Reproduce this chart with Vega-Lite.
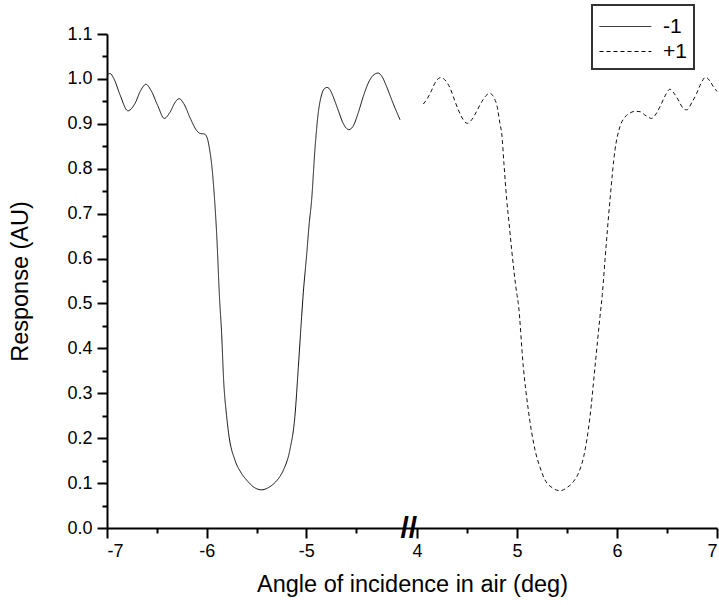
{
  "$schema": "https://vega.github.io/schema/vega-lite/v6.json",
  "width": 610,
  "height": 494,
  "autosize": "none",
  "padding": {"left": 107, "top": 34, "right": 2, "bottom": 77},
  "background": "white",
  "config": {
    "view": {"stroke": null},
    "font": "Liberation Sans",
    "legend": {"strokeWidth": 2},
    "axis": {
      "grid": false,
      "domainColor": "black",
      "tickColor": "black",
      "labelColor": "black",
      "titleColor": "black",
      "domainWidth": 2,
      "tickWidth": 2,
      "labelFont": "Liberation Sans",
      "titleFont": "Liberation Sans",
      "labelFontSize": 18,
      "titleFontSize": 23.5,
      "titleFontWeight": "normal"
    }
  },
  "datasets": {
    "curves": [
      {"order": "-1", "angle": -7.0, "response": 1.008},
      {"order": "-1", "angle": -6.97, "response": 1.012},
      {"order": "-1", "angle": -6.93, "response": 1.0},
      {"order": "-1", "angle": -6.87, "response": 0.965},
      {"order": "-1", "angle": -6.79, "response": 0.929},
      {"order": "-1", "angle": -6.72, "response": 0.945},
      {"order": "-1", "angle": -6.66, "response": 0.975},
      {"order": "-1", "angle": -6.61, "response": 0.988},
      {"order": "-1", "angle": -6.56, "response": 0.975},
      {"order": "-1", "angle": -6.49, "response": 0.94},
      {"order": "-1", "angle": -6.425, "response": 0.912},
      {"order": "-1", "angle": -6.37, "response": 0.925},
      {"order": "-1", "angle": -6.31, "response": 0.95},
      {"order": "-1", "angle": -6.275, "response": 0.956},
      {"order": "-1", "angle": -6.23, "response": 0.945},
      {"order": "-1", "angle": -6.16, "response": 0.91},
      {"order": "-1", "angle": -6.1, "response": 0.885},
      {"order": "-1", "angle": -6.07, "response": 0.879},
      {"order": "-1", "angle": -6.02, "response": 0.877},
      {"order": "-1", "angle": -5.99, "response": 0.865},
      {"order": "-1", "angle": -5.97, "response": 0.842},
      {"order": "-1", "angle": -5.95, "response": 0.81},
      {"order": "-1", "angle": -5.93, "response": 0.76},
      {"order": "-1", "angle": -5.9, "response": 0.656},
      {"order": "-1", "angle": -5.87, "response": 0.508},
      {"order": "-1", "angle": -5.85, "response": 0.434},
      {"order": "-1", "angle": -5.83, "response": 0.33},
      {"order": "-1", "angle": -5.8, "response": 0.25},
      {"order": "-1", "angle": -5.78, "response": 0.211},
      {"order": "-1", "angle": -5.716, "response": 0.151},
      {"order": "-1", "angle": -5.66, "response": 0.125},
      {"order": "-1", "angle": -5.6, "response": 0.107},
      {"order": "-1", "angle": -5.52, "response": 0.09},
      {"order": "-1", "angle": -5.45, "response": 0.085},
      {"order": "-1", "angle": -5.38, "response": 0.09},
      {"order": "-1", "angle": -5.33, "response": 0.098},
      {"order": "-1", "angle": -5.28, "response": 0.11},
      {"order": "-1", "angle": -5.23, "response": 0.129},
      {"order": "-1", "angle": -5.165, "response": 0.174},
      {"order": "-1", "angle": -5.115, "response": 0.248},
      {"order": "-1", "angle": -5.08, "response": 0.359},
      {"order": "-1", "angle": -5.047, "response": 0.471},
      {"order": "-1", "angle": -5.03, "response": 0.525},
      {"order": "-1", "angle": -5.0, "response": 0.6},
      {"order": "-1", "angle": -4.97, "response": 0.68},
      {"order": "-1", "angle": -4.947, "response": 0.73},
      {"order": "-1", "angle": -4.914, "response": 0.842},
      {"order": "-1", "angle": -4.88, "response": 0.925},
      {"order": "-1", "angle": -4.85, "response": 0.962},
      {"order": "-1", "angle": -4.82, "response": 0.978},
      {"order": "-1", "angle": -4.79, "response": 0.981},
      {"order": "-1", "angle": -4.76, "response": 0.975},
      {"order": "-1", "angle": -4.73, "response": 0.96},
      {"order": "-1", "angle": -4.68, "response": 0.93},
      {"order": "-1", "angle": -4.63, "response": 0.901},
      {"order": "-1", "angle": -4.573, "response": 0.887},
      {"order": "-1", "angle": -4.53, "response": 0.895},
      {"order": "-1", "angle": -4.48, "response": 0.924},
      {"order": "-1", "angle": -4.43, "response": 0.96},
      {"order": "-1", "angle": -4.38, "response": 0.99},
      {"order": "-1", "angle": -4.33, "response": 1.008},
      {"order": "-1", "angle": -4.28, "response": 1.013},
      {"order": "-1", "angle": -4.24, "response": 1.005},
      {"order": "-1", "angle": -4.195, "response": 0.983},
      {"order": "-1", "angle": -4.13, "response": 0.946},
      {"order": "-1", "angle": -4.06, "response": 0.909},
      {"order": "+1", "angle": 4.063, "response": 0.944},
      {"order": "+1", "angle": 4.1, "response": 0.955},
      {"order": "+1", "angle": 4.147, "response": 0.975},
      {"order": "+1", "angle": 4.19, "response": 0.995},
      {"order": "+1", "angle": 4.24, "response": 1.003},
      {"order": "+1", "angle": 4.29, "response": 0.995},
      {"order": "+1", "angle": 4.33, "response": 0.98},
      {"order": "+1", "angle": 4.38, "response": 0.95},
      {"order": "+1", "angle": 4.413, "response": 0.931},
      {"order": "+1", "angle": 4.46, "response": 0.91},
      {"order": "+1", "angle": 4.503, "response": 0.901},
      {"order": "+1", "angle": 4.55, "response": 0.91},
      {"order": "+1", "angle": 4.597, "response": 0.928},
      {"order": "+1", "angle": 4.65, "response": 0.95},
      {"order": "+1", "angle": 4.7, "response": 0.965},
      {"order": "+1", "angle": 4.73, "response": 0.968},
      {"order": "+1", "angle": 4.77, "response": 0.958},
      {"order": "+1", "angle": 4.8, "response": 0.94},
      {"order": "+1", "angle": 4.83, "response": 0.9},
      {"order": "+1", "angle": 4.847, "response": 0.879},
      {"order": "+1", "angle": 4.87, "response": 0.81},
      {"order": "+1", "angle": 4.897, "response": 0.731},
      {"order": "+1", "angle": 4.92, "response": 0.68},
      {"order": "+1", "angle": 4.947, "response": 0.619},
      {"order": "+1", "angle": 4.997, "response": 0.523},
      {"order": "+1", "angle": 5.013, "response": 0.5},
      {"order": "+1", "angle": 5.063, "response": 0.359},
      {"order": "+1", "angle": 5.113, "response": 0.263},
      {"order": "+1", "angle": 5.18, "response": 0.174},
      {"order": "+1", "angle": 5.23, "response": 0.135},
      {"order": "+1", "angle": 5.28, "response": 0.107},
      {"order": "+1", "angle": 5.35, "response": 0.09},
      {"order": "+1", "angle": 5.43, "response": 0.083},
      {"order": "+1", "angle": 5.5, "response": 0.09},
      {"order": "+1", "angle": 5.563, "response": 0.103},
      {"order": "+1", "angle": 5.62, "response": 0.125},
      {"order": "+1", "angle": 5.667, "response": 0.159},
      {"order": "+1", "angle": 5.73, "response": 0.248},
      {"order": "+1", "angle": 5.78, "response": 0.359},
      {"order": "+1", "angle": 5.83, "response": 0.471},
      {"order": "+1", "angle": 5.853, "response": 0.52},
      {"order": "+1", "angle": 5.88, "response": 0.597},
      {"order": "+1", "angle": 5.93, "response": 0.731},
      {"order": "+1", "angle": 5.98, "response": 0.842},
      {"order": "+1", "angle": 6.03, "response": 0.894},
      {"order": "+1", "angle": 6.08, "response": 0.915},
      {"order": "+1", "angle": 6.13, "response": 0.924},
      {"order": "+1", "angle": 6.18, "response": 0.928},
      {"order": "+1", "angle": 6.23, "response": 0.927},
      {"order": "+1", "angle": 6.29, "response": 0.918},
      {"order": "+1", "angle": 6.347, "response": 0.912},
      {"order": "+1", "angle": 6.39, "response": 0.922},
      {"order": "+1", "angle": 6.43, "response": 0.938},
      {"order": "+1", "angle": 6.48, "response": 0.962},
      {"order": "+1", "angle": 6.53, "response": 0.977},
      {"order": "+1", "angle": 6.57, "response": 0.968},
      {"order": "+1", "angle": 6.613, "response": 0.953},
      {"order": "+1", "angle": 6.66, "response": 0.935},
      {"order": "+1", "angle": 6.697, "response": 0.931},
      {"order": "+1", "angle": 6.75, "response": 0.948},
      {"order": "+1", "angle": 6.797, "response": 0.968},
      {"order": "+1", "angle": 6.84, "response": 0.99},
      {"order": "+1", "angle": 6.887, "response": 1.004},
      {"order": "+1", "angle": 6.93, "response": 0.995},
      {"order": "+1", "angle": 6.963, "response": 0.983},
      {"order": "+1", "angle": 7.0, "response": 0.972}
    ]
  },
  "layer": [
    {
      "data": {"name": "curves"},
      "mark": {"type": "line", "strokeWidth": 1, "color": "#111", "interpolate": "monotone"},
      "encoding": {
        "x": {
          "field": "angle",
          "type": "quantitative",
          "scale": {"domain": [-7, -4, 4, 7], "range": [0, 299, 310, 610], "nice": false, "zero": false},
          "axis": {
            "values": [-7, -6, -5, 4, 5, 6, 7],
            "labelExpr": "datum.value + ''",
            "tickSize": 10,
            "labelPadding": 4,
            "title": "Angle of incidence in air (deg)",
            "titlePadding": 12
          }
        },
        "y": {
          "field": "response",
          "type": "quantitative",
          "scale": {"domain": [0, 1.1], "nice": false},
          "axis": {
            "values": [0, 0.1, 0.2, 0.3, 0.4, 0.5, 0.6, 0.7, 0.8, 0.9, 1.0, 1.1],
            "format": ".1f",
            "tickSize": 10,
            "labelPadding": 5,
            "title": "Response (AU)",
            "titlePadding": 34
          }
        },
        "strokeDash": {
          "field": "order",
          "type": "nominal",
          "scale": {"domain": ["-1", "+1"], "range": [[1, 0], [4, 3]]},
          "legend": {
            "orient": "none",
            "legendX": 485,
            "legendY": -29,
            "title": null,
            "symbolType": "M-1,0H2.7",
            "symbolSize": 784,
            "symbolStrokeWidth": 1,
            "symbolStrokeColor": "black",
            "labelFont": "Liberation Sans",
            "labelFontSize": 21,
            "labelColor": "black",
            "labelOffset": 35,
            "padding": 7,
            "rowPadding": 0,
            "columnPadding": 0,
            "strokeColor": "#333"
          }
        }
      }
    },
    {
      "data": {"values": [{}]},
      "mark": {"type": "text", "text": "//", "fontSize": 30, "fontWeight": "bold", "baseline": "middle", "align": "center", "font": "Liberation Sans", "dy": 1},
      "encoding": {
        "x": {
          "datum": -2,
          "type": "quantitative",
          "axis": {"orient": "bottom", "values": [-6.5, -5.5, -4.5, 4.5, 5.5, 6.5], "labels": false, "domain": false, "tickSize": 5, "title": null}
        },
        "y": {
          "datum": 0,
          "type": "quantitative",
          "axis": {"orient": "left", "values": [0.05, 0.15, 0.25, 0.35, 0.45, 0.55, 0.65, 0.75, 0.85, 0.95, 1.05], "labels": false, "domain": false, "tickSize": 5, "title": null}
        }
      }
    }
  ],
  "resolve": {"axis": {"x": "independent", "y": "independent"}}
}
